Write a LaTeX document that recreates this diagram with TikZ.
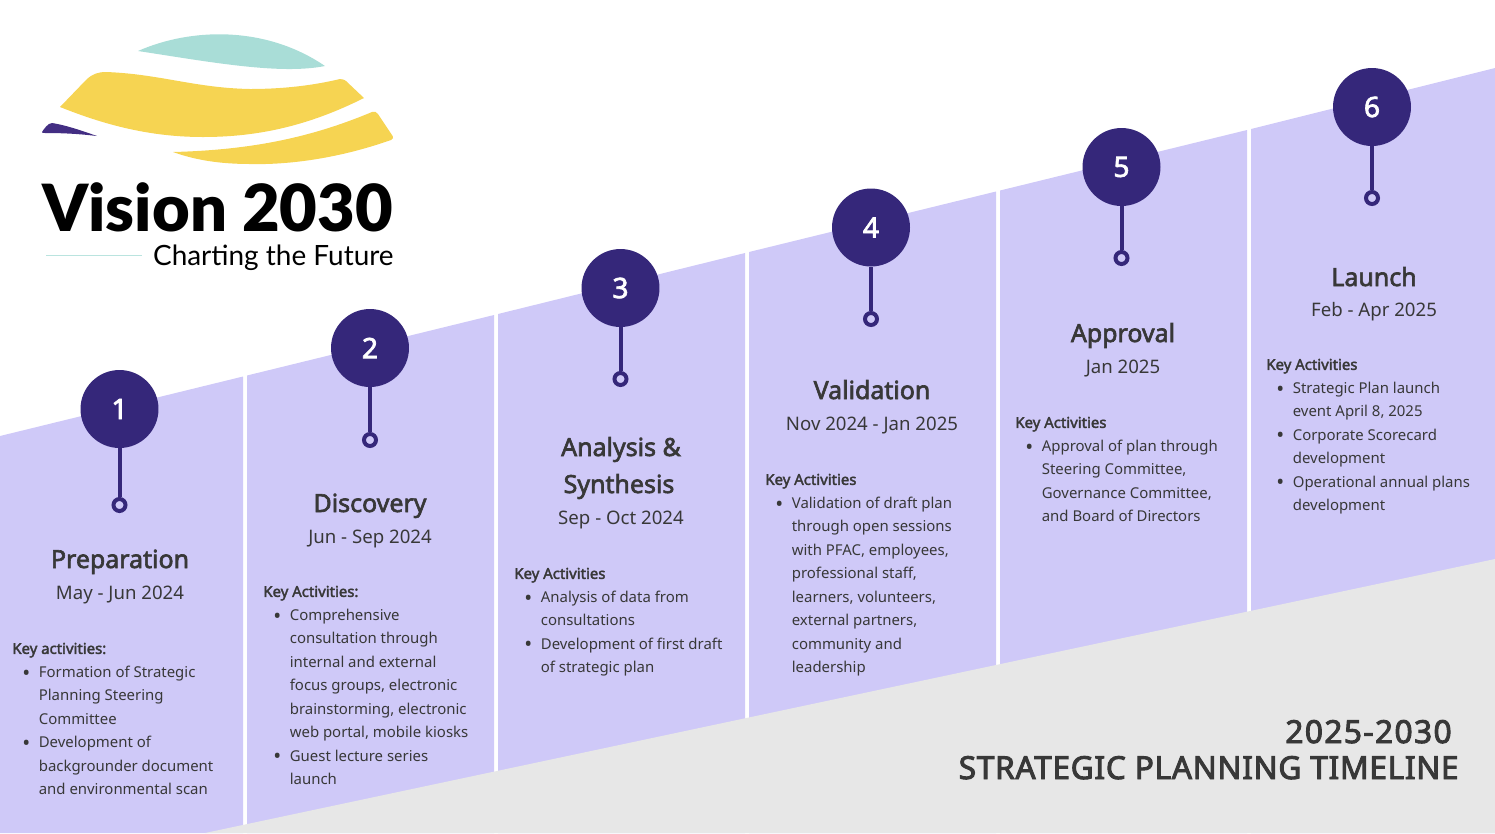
\documentclass[tikz,border=0pt]{standalone}
\usepackage{fontspec}
\usepackage{tikz}
\setmainfont[BoldFont={Noto Sans},BoldFeatures={FakeBold=2.5}]{Noto Sans}
\newfontfamily\logofont{Lato Black}
\newfontfamily\tagfont{Lato}
\definecolor{vpurple}{HTML}{CFC9F8}
\definecolor{vdark}{HTML}{35277A}
\definecolor{vgray}{HTML}{E7E7E7}
\definecolor{vink}{HTML}{383838}
\definecolor{vteal}{HTML}{A9DDD7}
\definecolor{vyellow}{HTML}{F6D452}
\definecolor{vlogo}{HTML}{432E83}
\newcommand{\itm}{\hspace*{2mm}\makebox[3.3mm][l]{\raisebox{-0.55mm}{\fontsize{12}{12}\selectfont\textbullet}}}
\newcommand{\ind}{\hspace*{5.3mm}}
\tikzset{
  numdot/.style={circle,fill=vdark,text=white,inner sep=0pt,minimum size=1.56cm,font=\fontsize{16}{16}\selectfont\bfseries},
  pindot/.style={circle,draw=vdark,line width=0.08cm,inner sep=0pt,minimum size=0.24cm},
  stem/.style={draw=vdark,line width=0.08cm},
  phase/.style={anchor=base,inner sep=0pt,text=vink,font=\fontsize{14.2}{14.2}\selectfont\bfseries},
  when/.style={anchor=base,inner sep=0pt,text=vink,font=\fontsize{10.6}{10.6}\selectfont},
  acts/.style={anchor=north west,inner sep=0pt,align=left,text=vink,font=\fontsize{8.5}{13.35}\selectfont},
}

\begin{document}
\begin{tikzpicture}[x=0.02cm,y=-0.02cm]
  \useasboundingbox (0,0) rectangle (1495,833);
  % ---- columns under the rising edge ----
  \fill[vpurple] (0,436) -- (243,376.5) -- (243,833) -- (0,833) -- cycle;
  \fill[vpurple] (247,375.5) -- (494,315) -- (494,833) -- (247,833) -- cycle;
  \fill[vpurple] (498,314) -- (745,253) -- (745,833) -- (498,833) -- cycle;
  \fill[vpurple] (749,252) -- (996,191.5) -- (996,833) -- (749,833) -- cycle;
  \fill[vpurple] (1000,190.5) -- (1247,130) -- (1247,833) -- (1000,833) -- cycle;
  \fill[vpurple] (1251,129) -- (1495,68) -- (1495,833) -- (1251,833) -- cycle;
  \fill[vgray] (205,833) -- (1495,559) -- (1495,833) -- cycle;
  % ---- logo ----
  \fill[vteal] (138,51) .. controls (190,28) and (265,25) .. (325,66)
        .. controls (280,75) and (210,62) .. cycle;
  \fill[vyellow] (60,107) -- (86,80) .. controls (92,74) and (98,72) .. (106,72)
        .. controls (160,74) and (195,88) .. (250,89)
        .. controls (285,89) and (315,85) .. (340,79)
        .. controls (343,79) and (345,80) .. (346,81) -- (364,98)
        .. controls (310,125) and (260,137) .. (203,137)
        .. controls (150,137) and (105,125) .. cycle;
  \fill[vyellow] (173,152) .. controls (250,150) and (310,138) .. (372,112)
        .. controls (375,111) and (376,112) .. (378,114) -- (392,135)
        .. controls (394,138) and (393,139) .. (391,140)
        .. controls (340,158) and (290,165) .. (250,164)
        .. controls (220,164) and (195,160) .. cycle;
  \fill[vlogo] (97,136) .. controls (80,130) and (65,125) .. (52,123)
        .. controls (48,123) and (44,129) .. (42,132)
        .. controls (42,133) and (43,133) .. (45,133)
        .. controls (65,133) and (80,134) .. cycle;
  \node[anchor=base west,inner sep=0pt,font=\fontsize{37}{37}\logofont] (vision) at (42,231) {Vision 2030};
  \node[anchor=base east,inner sep=0pt,font=\fontsize{15.9}{15.9}\tagfont] (tagline) at (394,265) {Charting the Future};
  \draw[vteal!80,line width=0.02cm] (46,255) -- (142,255);
  % ---- step 1 ----
  \node[numdot] (num1) at (119.5,409) {1};
  \node[pindot] (pin1) at (119.5,505) {};
  \draw[stem] (num1) -- (pin1);
  \node[phase] (phase1) at (120,568) {Preparation};
  \node[when] (when1) at (120,599) {May - Jun 2024};
  \node[acts] (acts1) at (12,642.5) {\textbf{Key activities:}\\
    \itm Formation of Strategic\\\ind Planning Steering\\\ind Committee\\
    \itm Development of\\\ind backgrounder document\\\ind and environmental scan};
  % ---- step 2 ----
  \node[numdot] (num2) at (370,348) {2};
  \node[pindot] (pin2) at (370,440) {};
  \draw[stem] (num2) -- (pin2);
  \node[phase] (phase2) at (370,512) {Discovery};
  \node[when] (when2) at (370,543) {Jun - Sep 2024};
  \node[acts] (acts2) at (263,585.5) {\textbf{Key Activities:}\\
    \itm Comprehensive\\\ind consultation through\\\ind internal and external\\\ind focus groups, electronic\\\ind brainstorming, electronic\\\ind web portal, mobile kiosks\\
    \itm Guest lecture series\\\ind launch};
  % ---- step 3 ----
  \node[numdot] (num3) at (620.5,288) {3};
  \node[pindot] (pin3) at (620.5,379) {};
  \draw[stem] (num3) -- (pin3);
  \node[phase] (phase3a) at (621,456) {Analysis \&};
  \node[phase] (phase3b) at (619,493) {Synthesis};
  \node[when] (when3) at (621,524) {Sep - Oct 2024};
  \node[acts] (acts3) at (514,567.5) {\textbf{Key Activities}\\
    \itm Analysis of data from\\\ind consultations\\
    \itm Development of first draft\\\ind of strategic plan};
  % ---- step 4 ----
  \node[numdot] (num4) at (871,227.5) {4};
  \node[pindot] (pin4) at (871,319) {};
  \draw[stem] (num4) -- (pin4);
  \node[phase] (phase4) at (872,399) {Validation};
  \node[when] (when4) at (872,430) {Nov 2024 - Jan 2025};
  \node[acts] (acts4) at (765,473.5) {\textbf{Key Activities}\\
    \itm Validation of draft plan\\\ind through open sessions\\\ind with PFAC, employees,\\\ind professional staff,\\\ind learners, volunteers,\\\ind external partners,\\\ind community and\\\ind leadership};
  % ---- step 5 ----
  \node[numdot] (num5) at (1121.5,167) {5};
  \node[pindot] (pin5) at (1121.5,258) {};
  \draw[stem] (num5) -- (pin5);
  \node[phase] (phase5) at (1123,342) {Approval};
  \node[when] (when5) at (1123,373) {Jan 2025};
  \node[acts] (acts5) at (1015,416.5) {\textbf{Key Activities}\\
    \itm Approval of plan through\\\ind Steering Committee,\\\ind Governance Committee,\\\ind and Board of Directors};
  % ---- step 6 ----
  \node[numdot] (num6) at (1372,107) {6};
  \node[pindot] (pin6) at (1372,198) {};
  \draw[stem] (num6) -- (pin6);
  \node[phase] (phase6) at (1374,286) {Launch};
  \node[when] (when6) at (1374,316) {Feb - Apr 2025};
  \node[acts] (acts6) at (1266,358.5) {\textbf{Key Activities}\\
    \itm Strategic Plan launch\\\ind event April 8, 2025\\
    \itm Corporate Scorecard\\\ind development\\
    \itm Operational annual plans\\\ind development};
  % ---- heading ----
  \node[anchor=base east,inner sep=0pt,text=vink,font=\fontsize{18}{18}\selectfont\addfontfeatures{LetterSpace=4.5,FakeBold=3}] (years) at (1452,743) {2025-2030};
  \node[anchor=base east,inner sep=0pt,text=vink,font=\fontsize{18}{18}\selectfont\addfontfeatures{LetterSpace=2.2,FakeBold=3}] (plan) at (1459,779) {STRATEGIC PLANNING TIMELINE};
\end{tikzpicture}
\end{document}
